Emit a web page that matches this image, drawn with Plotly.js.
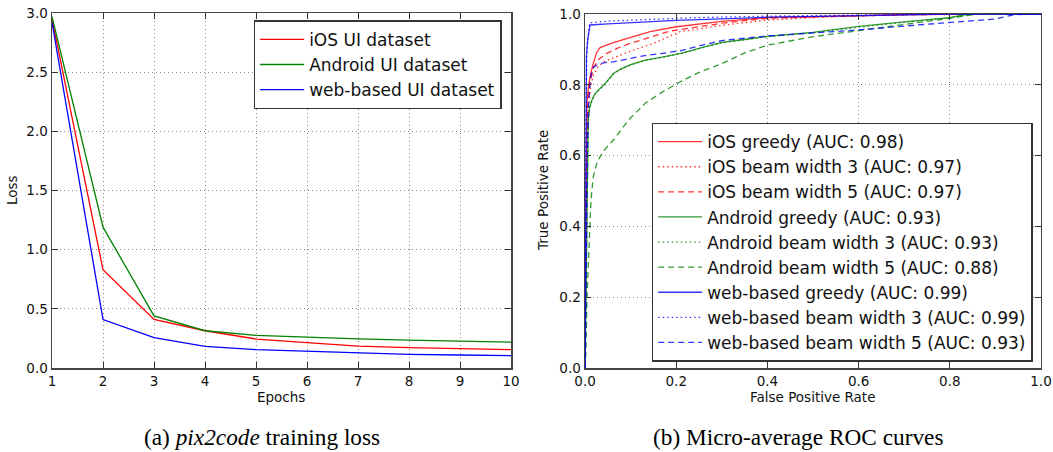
<!DOCTYPE html>
<html>
<head>
<meta charset="utf-8">
<script src="https://cdn.plot.ly/plotly-3.0.1.min.js"></script>
<style>html,body{margin:0;padding:0;background:#fff;}#chart{width:1053px;height:452px;}</style>
</head>
<body>
<div id="chart"></div>
<script>
// ---- Left panel: training loss ----
const epochs = [1, 2, 3, 4, 5, 6, 7, 8, 9, 10];
const lossIOS = [2.95, 0.83, 0.41, 0.315, 0.245, 0.215, 0.185, 0.172, 0.163, 0.155];
const lossAndroid = [2.97, 1.19, 0.44, 0.315, 0.276, 0.259, 0.247, 0.236, 0.229, 0.219];
const lossWeb = [2.92, 0.41, 0.256, 0.183, 0.155, 0.141, 0.124, 0.115, 0.11, 0.104];
const lossNames = ["iOS UI dataset", "Android UI dataset", "web-based UI dataset"];

// ---- Right panel: micro-average ROC curves ----
const iosGreedyFpr = [0, 0.002, 0.004, 0.008, 0.012, 0.018, 0.025, 0.033, 0.062, 0.1, 0.143, 0.2, 0.3, 0.4, 0.55, 0.7, 0.85, 1.0];
const iosGreedyTpr = [0, 0.5, 0.75, 0.8, 0.83, 0.86, 0.89, 0.905, 0.919, 0.934, 0.95, 0.964, 0.979, 0.99, 0.995, 0.998, 1.0, 1.0];
const iosBeam3Fpr = [0, 0.003, 0.007, 0.012, 0.018, 0.028, 0.04, 0.077, 0.11, 0.15, 0.208, 0.26, 0.3, 0.4, 0.55, 0.7, 0.85, 1.0];
const iosBeam3Tpr = [0, 0.5, 0.72, 0.79, 0.826, 0.85, 0.865, 0.884, 0.9, 0.917, 0.95, 0.96, 0.968, 0.983, 0.993, 0.998, 1.0, 1.0];
const iosBeam5Fpr = [0, 0.003, 0.006, 0.01, 0.018, 0.03, 0.048, 0.07, 0.099, 0.14, 0.187, 0.25, 0.3, 0.4, 0.55, 0.7, 0.85, 1.0];
const iosBeam5Tpr = [0, 0.55, 0.75, 0.8, 0.847, 0.872, 0.889, 0.903, 0.917, 0.934, 0.952, 0.964, 0.974, 0.988, 0.994, 0.998, 1.0, 1.0];

const androidGreedyFpr = [0, 0.003, 0.005, 0.007, 0.01, 0.015, 0.022, 0.033, 0.045, 0.062, 0.08, 0.1, 0.13, 0.172, 0.21, 0.25, 0.3, 0.35, 0.4, 0.5, 0.6, 0.7, 0.8, 0.84, 1.0];
const androidGreedyTpr = [0, 0.35, 0.6, 0.7, 0.735, 0.757, 0.775, 0.788, 0.805, 0.832, 0.846, 0.857, 0.869, 0.879, 0.889, 0.903, 0.92, 0.928, 0.937, 0.948, 0.965, 0.978, 0.99, 1.0, 1.0];
const androidBeam3Fpr = [0, 0.003, 0.005, 0.007, 0.01, 0.015, 0.022, 0.033, 0.046, 0.063, 0.08, 0.1, 0.13, 0.17, 0.21, 0.25, 0.3, 0.35, 0.4, 0.5, 0.6, 0.7, 0.8, 0.85, 1.0];
const androidBeam3Tpr = [0, 0.34, 0.59, 0.69, 0.733, 0.755, 0.774, 0.787, 0.804, 0.831, 0.845, 0.856, 0.868, 0.878, 0.888, 0.902, 0.919, 0.927, 0.936, 0.947, 0.963, 0.977, 0.989, 1.0, 1.0];
const androidBeam5Fpr = [0, 0.002, 0.004, 0.007, 0.009, 0.011, 0.013, 0.018, 0.025, 0.033, 0.045, 0.062, 0.095, 0.132, 0.17, 0.208, 0.25, 0.3, 0.35, 0.4, 0.5, 0.6, 0.7, 0.8, 0.86, 1.0];
const androidBeam5Tpr = [0, 0.05, 0.19, 0.3, 0.38, 0.43, 0.474, 0.54, 0.575, 0.597, 0.62, 0.644, 0.7, 0.748, 0.78, 0.808, 0.835, 0.86, 0.89, 0.912, 0.936, 0.953, 0.97, 0.988, 1.0, 1.0];

const webGreedyFpr = [0, 0.001, 0.003, 0.006, 0.011, 0.05, 0.1, 0.2, 0.3, 0.4, 0.55, 0.65, 0.8, 1.0];
const webGreedyTpr = [0, 0.6, 0.88, 0.93, 0.969, 0.972, 0.976, 0.982, 0.986, 0.991, 0.994, 0.997, 1.0, 1.0];
const webBeam3Fpr = [0, 0.001, 0.004, 0.007, 0.01, 0.05, 0.15, 0.25, 0.4, 0.6, 0.8, 1.0];
const webBeam3Tpr = [0, 0.6, 0.9, 0.95, 0.975, 0.98, 0.985, 0.99, 0.994, 0.997, 1.0, 1.0];
const webBeam5Fpr = [0, 0.002, 0.005, 0.008, 0.012, 0.018, 0.03, 0.04, 0.062, 0.09, 0.128, 0.17, 0.208, 0.25, 0.3, 0.4, 0.5, 0.6, 0.7, 0.8, 0.9, 0.94, 1.0];
const webBeam5Tpr = [0, 0.3, 0.6, 0.75, 0.82, 0.85, 0.858, 0.862, 0.865, 0.872, 0.882, 0.889, 0.896, 0.91, 0.925, 0.938, 0.946, 0.955, 0.966, 0.976, 0.986, 0.998, 1.0];

const rocNames = [
  "iOS greedy (AUC: 0.98)", "iOS beam width 3 (AUC: 0.97)", "iOS beam width 5 (AUC: 0.97)",
  "Android greedy (AUC: 0.93)", "Android beam width 3 (AUC: 0.93)", "Android beam width 5 (AUC: 0.88)",
  "web-based greedy (AUC: 0.99)", "web-based beam width 3 (AUC: 0.99)", "web-based beam width 5 (AUC: 0.93)"
];

const RED = "#ff0000", GREEN = "#008000", BLUE = "#0000ff";
const DOT = "1.5px,3px", DASH = "6px,4px";

function lossTrace(y, name, color) {
  return {x: epochs, y: y, name: name, type: "scatter", mode: "lines",
    line: {color: color, width: 1.3}, xaxis: "x", yaxis: "y", legend: "legend"};
}
function rocTrace(x, y, name, color, dash, opacity) {
  return {x: x, y: y, name: name, type: "scatter", mode: "lines",
    line: {color: color, width: 1.3, dash: dash}, opacity: opacity,
    xaxis: "x2", yaxis: "y2", legend: "legend2"};
}

const data = [
  lossTrace(lossIOS, lossNames[0], RED),
  lossTrace(lossAndroid, lossNames[1], GREEN),
  lossTrace(lossWeb, lossNames[2], BLUE),
  rocTrace(iosGreedyFpr, iosGreedyTpr, rocNames[0], RED, "solid", 0.8),
  rocTrace(iosBeam3Fpr, iosBeam3Tpr, rocNames[1], RED, DOT, 0.8),
  rocTrace(iosBeam5Fpr, iosBeam5Tpr, rocNames[2], RED, DASH, 0.8),
  rocTrace(androidGreedyFpr, androidGreedyTpr, rocNames[3], GREEN, "solid", 0.8),
  rocTrace(androidBeam3Fpr, androidBeam3Tpr, rocNames[4], GREEN, DOT, 0.8),
  rocTrace(androidBeam5Fpr, androidBeam5Tpr, rocNames[5], GREEN, DASH, 0.8),
  rocTrace(webGreedyFpr, webGreedyTpr, rocNames[6], BLUE, "solid", 0.8),
  rocTrace(webBeam3Fpr, webBeam3Tpr, rocNames[7], BLUE, DOT, 0.8),
  rocTrace(webBeam5Fpr, webBeam5Tpr, rocNames[8], BLUE, DASH, 0.8)
];

const FONT = "DejaVu Sans, Verdana, sans-serif";
const tickFont = {family: FONT, size: 13.5, color: "#111"};
const axisCommon = {
  showline: true, linecolor: "#444", linewidth: 1.5, mirror: "ticks",
  ticks: "inside", ticklen: 6, tickwidth: 1, tickcolor: "#333",
  showgrid: true, gridcolor: "#8a8a8a", griddash: "1px,3px", gridwidth: 1,
  zeroline: false, tickfont: tickFont, fixedrange: true
};
const legendCommon = {
  bgcolor: "#ffffff", bordercolor: "#333", borderwidth: 1.5, itemwidth: 44,
  font: {family: FONT, size: 17, color: "#111"}, tracegroupgap: 0
};

const layout = {
  width: 1053, height: 452,
  margin: {l: 0, r: 0, t: 0, b: 0},
  paper_bgcolor: "#ffffff", plot_bgcolor: "#ffffff",
  showlegend: true,
  xaxis: Object.assign({}, axisCommon, {domain: [0.0494, 0.4853], range: [1, 10], tickvals: epochs, anchor: "y"}),
  yaxis: Object.assign({}, axisCommon, {domain: [0.1858, 0.9712], range: [0, 3], dtick: 0.5, tick0: 0, tickformat: ".1f", anchor: "x"}),
  xaxis2: Object.assign({}, axisCommon, {domain: [0.5556, 0.9886], range: [0, 1], dtick: 0.2, tick0: 0, tickformat: ".1f", anchor: "y2"}),
  yaxis2: Object.assign({}, axisCommon, {domain: [0.1858, 0.969], range: [0, 1], dtick: 0.2, tick0: 0, tickformat: ".1f", anchor: "x2"}),
  legend: Object.assign({}, legendCommon, {x: 0.4764, xanchor: "right", y: 0.955, yanchor: "top"}),
  legend2: Object.assign({}, legendCommon, {x: 0.9807, xanchor: "right", y: 0.2, yanchor: "bottom"}),
  annotations: [
    {text: "Epochs", xref: "paper", yref: "paper", x: 0.2673, y: (452 - 397) / 452, xanchor: "center", yanchor: "middle", showarrow: false, font: {family: FONT, size: 13.5, color: "#111"}},
    {text: "Loss", xref: "paper", yref: "paper", x: 12 / 1053, y: (452 - 190) / 452, xanchor: "center", yanchor: "middle", textangle: -90, showarrow: false, font: {family: FONT, size: 13.5, color: "#111"}},
    {text: "False Positive Rate", xref: "paper", yref: "paper", x: 812 / 1053, y: (452 - 397) / 452, xanchor: "center", yanchor: "middle", showarrow: false, font: {family: FONT, size: 13.5, color: "#111"}},
    {text: "True Positive Rate", xref: "paper", yref: "paper", x: 543 / 1053, y: (452 - 191) / 452, xanchor: "center", yanchor: "middle", textangle: -90, showarrow: false, font: {family: FONT, size: 13.5, color: "#111"}},
    {text: "(a) <i>pix2code</i> training loss", xref: "paper", yref: "paper", x: 262 / 1053, y: (452 - 437) / 452, xanchor: "center", yanchor: "middle", showarrow: false, font: {family: "Liberation Serif, Times New Roman, serif", size: 23.3, color: "#000"}},
    {text: "(b) Micro-average ROC curves", xref: "paper", yref: "paper", x: 798 / 1053, y: (452 - 437) / 452, xanchor: "center", yanchor: "middle", showarrow: false, font: {family: "Liberation Serif, Times New Roman, serif", size: 23.3, color: "#000"}}
  ]
};

Plotly.newPlot("chart", data, layout, {displayModeBar: false, staticPlot: true});
</script>
</body>
</html>
